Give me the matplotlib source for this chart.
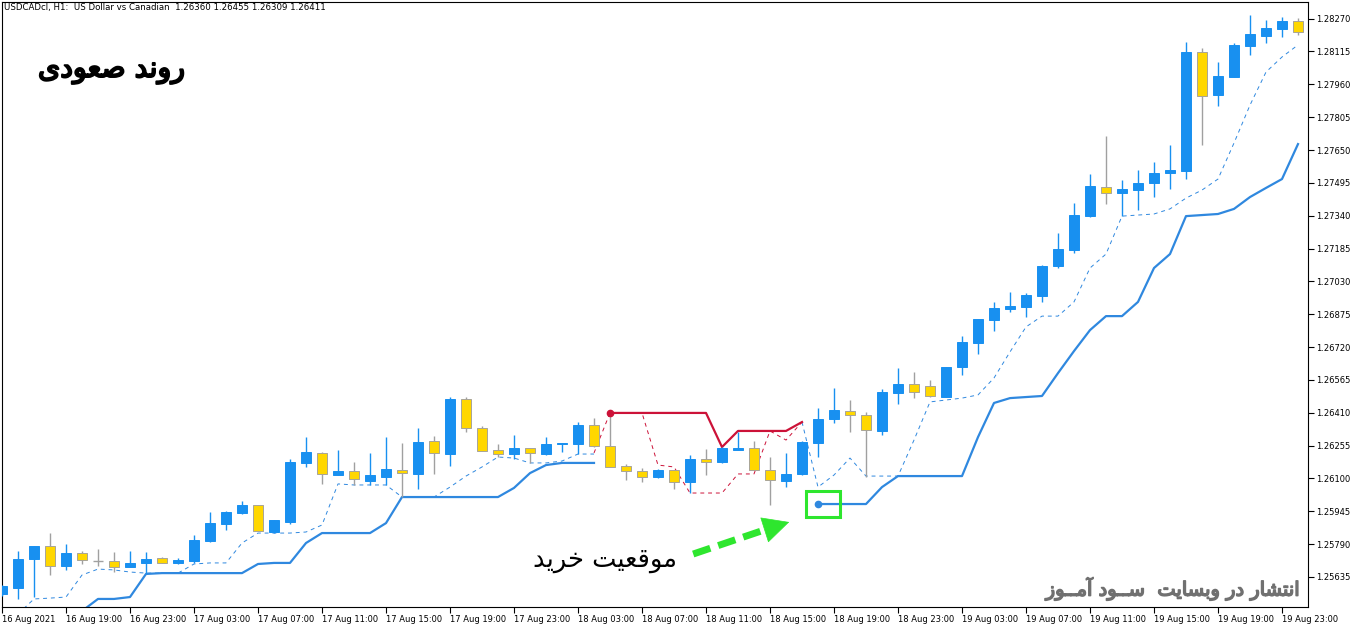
import numpy as np
import matplotlib
matplotlib.use("Agg")
import matplotlib.pyplot as plt
import matplotlib.patheffects as pe
from matplotlib.patches import Rectangle

# USDCAD H1 bars, 16 Aug 15:00 .. 20 Aug 00:00
opens = [1.25554, 1.25583, 1.25720, 1.25781, 1.25686, 1.25748, 1.25710, 1.25710, 1.25682, 1.25701,
         1.25724, 1.25701, 1.25710, 1.25805, 1.25885, 1.25937, 1.25974, 1.25847, 1.25894, 1.26173,
         1.26220, 1.26116, 1.26135, 1.26088, 1.26107, 1.26140, 1.26121, 1.26276, 1.26215, 1.26475,
         1.26338, 1.26234, 1.26215, 1.26243, 1.26215, 1.26262, 1.26262, 1.26352, 1.26253, 1.26158,
         1.26135, 1.26107, 1.26140, 1.26083, 1.26192, 1.26177, 1.26234, 1.26243, 1.26140, 1.26088,
         1.26121, 1.26267, 1.26380, 1.26418, 1.26399, 1.26324, 1.26503, 1.26546, 1.26536, 1.26484,
         1.26626, 1.26739, 1.26848, 1.26900, 1.26909, 1.26961, 1.27102, 1.27178, 1.27338, 1.27475,
         1.27447, 1.27461, 1.27494, 1.27541, 1.27551, 1.28113, 1.27910, 1.27995, 1.28141, 1.28188,
         1.28221, 1.28259]
highs = [1.25597, 1.25757, 1.25781, 1.25842, 1.25790, 1.25757, 1.25767, 1.25753, 1.25757, 1.25753,
         1.25729, 1.25724, 1.25833, 1.25941, 1.25946, 1.25993, 1.25974, 1.25904, 1.26192, 1.26295,
         1.26225, 1.26234, 1.26177, 1.26220, 1.26295, 1.26267, 1.26338, 1.26300, 1.26484, 1.26484,
         1.26347, 1.26262, 1.26305, 1.26243, 1.26295, 1.26267, 1.26366, 1.26385, 1.26409, 1.26168,
         1.26149, 1.26144, 1.26140, 1.26210, 1.26239, 1.26248, 1.26319, 1.26276, 1.26201, 1.26220,
         1.26276, 1.26432, 1.26527, 1.26470, 1.26413, 1.26522, 1.26621, 1.26602, 1.26564, 1.26626,
         1.26772, 1.26852, 1.26933, 1.26980, 1.26975, 1.27107, 1.27258, 1.27400, 1.27537, 1.27716,
         1.27508, 1.27556, 1.27593, 1.27674, 1.28160, 1.28131, 1.28065, 1.28155, 1.28287, 1.28264,
         1.28278, 1.28273]
lows = [1.25545, 1.25531, 1.25540, 1.25644, 1.25668, 1.25696, 1.25686, 1.25658, 1.25682, 1.25653,
        1.25701, 1.25696, 1.25701, 1.25800, 1.25856, 1.25932, 1.25852, 1.25842, 1.25885, 1.26154,
        1.26074, 1.26116, 1.26069, 1.26069, 1.26069, 1.26012, 1.26050, 1.26121, 1.26158, 1.26319,
        1.26229, 1.26201, 1.26192, 1.26173, 1.26210, 1.26225, 1.26215, 1.26248, 1.26154, 1.26092,
        1.26083, 1.26102, 1.26050, 1.26031, 1.26116, 1.26173, 1.26234, 1.26140, 1.25974, 1.26059,
        1.26116, 1.26201, 1.26361, 1.26319, 1.26107, 1.26305, 1.26451, 1.26479, 1.26484, 1.26484,
        1.26588, 1.26687, 1.26796, 1.26885, 1.26862, 1.26933, 1.27093, 1.27164, 1.27334, 1.27395,
        1.27338, 1.27367, 1.27428, 1.27466, 1.27513, 1.27674, 1.27858, 1.27995, 1.28098, 1.28155,
        1.28183, 1.28193]
closes = [1.25592, 1.25720, 1.25781, 1.25686, 1.25748, 1.25715, 1.25710, 1.25682, 1.25701, 1.25720,
          1.25701, 1.25715, 1.25809, 1.25889, 1.25941, 1.25974, 1.25852, 1.25904, 1.26177, 1.26225,
          1.26121, 1.26135, 1.26097, 1.26116, 1.26144, 1.26125, 1.26272, 1.26220, 1.26475, 1.26338,
          1.26229, 1.26215, 1.26243, 1.26220, 1.26262, 1.26267, 1.26352, 1.26253, 1.26154, 1.26135,
          1.26107, 1.26140, 1.26083, 1.26192, 1.26177, 1.26243, 1.26243, 1.26140, 1.26092, 1.26121,
          1.26272, 1.26380, 1.26423, 1.26399, 1.26328, 1.26508, 1.26546, 1.26508, 1.26489, 1.26626,
          1.26744, 1.26852, 1.26904, 1.26914, 1.26966, 1.27102, 1.27183, 1.27343, 1.27480, 1.27447,
          1.27466, 1.27494, 1.27541, 1.27556, 1.28113, 1.27905, 1.27999, 1.28146, 1.28198, 1.28226,
          1.28259, 1.28207]

# trailing stop lines (None = not drawn)
stop_slow = ([None] * 5 +
             [1.25474, 1.25531, 1.25531, 1.25540, 1.25649, 1.25653, 1.25653, 1.25653, 1.25653, 1.25653,
              1.25653, 1.25696, 1.25701, 1.25701, 1.25795, 1.25842, 1.25842, 1.25842, 1.25842, 1.25889,
              1.26012, 1.26012, 1.26012, 1.26012, 1.26012, 1.26012, 1.26012, 1.26055, 1.26125, 1.26163,
              1.26173, 1.26173, 1.26173] +
             [None] * 13 +
             [1.25979, 1.25979, 1.25979, 1.25979, 1.26059, 1.26111, 1.26111, 1.26111, 1.26111, 1.26111,
              1.26295, 1.26456, 1.26479, 1.26484, 1.26489, 1.26597, 1.26701, 1.26800, 1.26866, 1.26866,
              1.26933, 1.27093, 1.27159, 1.27338, 1.27343, 1.27348, 1.27372, 1.27428, 1.27471, 1.27513,
              1.27678])
stop_fast = ([None] +
             [1.25460, 1.25531, 1.25535, 1.25540, 1.25644, 1.25672, 1.25668, 1.25658, 1.25653, 1.25653,
              1.25653, 1.25696, 1.25701, 1.25701, 1.25795, 1.25842, 1.25842, 1.25842, 1.25847, 1.25880,
              1.26074, 1.26069, 1.26069, 1.26069, 1.26012, 1.26012, 1.26012, 1.26059, 1.26111, 1.26154,
              1.26201, 1.26196, 1.26173, 1.26173, 1.26182, 1.26215, 1.26215] +
             [None] * 12 +
             [1.26366, 1.26059, 1.26116, 1.26196, 1.26111, 1.26111, 1.26111, 1.26281, 1.26461, 1.26470,
              1.26479, 1.26494, 1.26574, 1.26697, 1.26815, 1.26866, 1.26866, 1.26933, 1.27093, 1.27159,
              1.27338, 1.27343, 1.27348, 1.27372, 1.27423, 1.27461, 1.27513, 1.27683, 1.27862, 1.28018,
              1.28089, 1.28146])
stop_sell = ([None] * 38 +
             [1.26409, 1.26409, 1.26409, 1.26409, 1.26409, 1.26409, 1.26409, 1.26248, 1.26324, 1.26324,
              1.26324, 1.26324, 1.26366] +
             [None] * 31)
stop_sell_fast = ([None] * 37 +
                  [1.26220, 1.26409, 1.26409, 1.26409, 1.26163, 1.26154, 1.26031, 1.26031, 1.26031, 1.26121,
                   1.26121, 1.26324, 1.26281, 1.26366] +
                  [None] * 31)

y_ticks = [1.25635, 1.25790, 1.25945, 1.26100, 1.26255, 1.26410, 1.26565, 1.26720, 1.26875,
           1.27030, 1.27185, 1.27340, 1.27495, 1.27650, 1.27805, 1.27960, 1.28115, 1.28270]
x_labels = ["16 Aug 2021", "16 Aug 19:00", "16 Aug 23:00", "17 Aug 03:00", "17 Aug 07:00",
            "17 Aug 11:00", "17 Aug 15:00", "17 Aug 19:00", "17 Aug 23:00", "18 Aug 03:00",
            "18 Aug 07:00", "18 Aug 11:00", "18 Aug 15:00", "18 Aug 19:00", "18 Aug 23:00",
            "19 Aug 03:00", "19 Aug 07:00", "19 Aug 11:00", "19 Aug 15:00", "19 Aug 19:00",
            "19 Aug 23:00"]

entry_bar = 51
title = "USDCADcl, H1:  US Dollar vs Canadian  1.26360 1.26455 1.26309 1.26411"

BULL = "#1890f0"
BEAR = "#ffd700"
BEAR_EDGE = "#a8a498"
LINE_BLUE = "#2f88df"
RED = "#cc1238"
GREEN = "#2ee62e"

# persian text -> presentation forms, visual order (matplotlib has no shaping)
FORMS = {
    'ا': ('\ufe8d', '\ufe8e', None, None),
    'آ': ('\ufe81', '\ufe82', None, None),
    'ب': ('\ufe8f', '\ufe90', '\ufe91', '\ufe92'),
    'ت': ('\ufe95', '\ufe96', '\ufe97', '\ufe98'),
    'خ': ('\ufea5', '\ufea6', '\ufea7', '\ufea8'),
    'د': ('\ufea9', '\ufeaa', None, None),
    'ر': ('\ufead', '\ufeae', None, None),
    'ز': ('\ufeaf', '\ufeb0', None, None),
    'س': ('\ufeb1', '\ufeb2', '\ufeb3', '\ufeb4'),
    'ش': ('\ufeb5', '\ufeb6', '\ufeb7', '\ufeb8'),
    'ص': ('\ufeb9', '\ufeba', '\ufebb', '\ufebc'),
    'ع': ('\ufec9', '\ufeca', '\ufecb', '\ufecc'),
    'ق': ('\ufed5', '\ufed6', '\ufed7', '\ufed8'),
    'م': ('\ufee1', '\ufee2', '\ufee3', '\ufee4'),
    'ن': ('\ufee5', '\ufee6', '\ufee7', '\ufee8'),
    'و': ('\ufeed', '\ufeee', None, None),
    'ی': ('\ufbfc', '\ufbfd', '\ufbfe', '\ufbff'),
    'ـ': ('\u0640', '\u0640', '\u0640', '\u0640'),
}


def fa(text):
    out = []
    for i, ch in enumerate(text):
        if ch not in FORMS:
            out.append(ch)
            continue
        iso, fin, ini, med = FORMS[ch]
        prev = text[i - 1] if i > 0 else ''
        nxt = text[i + 1] if i + 1 < len(text) else ''
        join_prev = prev in FORMS and FORMS[prev][2] is not None
        join_next = ini is not None and nxt in FORMS
        if join_prev and join_next:
            out.append(med)
        elif join_prev:
            out.append(fin)
        elif join_next:
            out.append(ini)
        else:
            out.append(iso)
    return ''.join(reversed(out))


W, H = 1362, 628
fig = plt.figure(figsize=(W / 100, H / 100), dpi=100, facecolor="white")
ax = fig.add_axes([2 / W, 21 / H, 1306 / W, (H - 22.5) / H])

o = np.array(opens)
h = np.array(highs)
l = np.array(lows)
c = np.array(closes)
x = np.arange(len(o))
up = c > o
down = c < o
flat = c == o

# indicator lines
ax.plot(x, np.array(stop_slow, dtype=float), color=LINE_BLUE, lw=1.6, zorder=2)
ax.plot(x, np.array(stop_fast, dtype=float), color=LINE_BLUE, lw=0.7, ls=(0, (4, 4)), zorder=2)
ax.plot(x, np.array(stop_sell, dtype=float), color=RED, lw=1.6, zorder=2)
ax.plot(x, np.array(stop_sell_fast, dtype=float), color=RED, lw=0.7, ls=(0, (4, 4)), zorder=2)
first_red = next(i for i, v in enumerate(stop_sell) if v is not None)
ax.plot(first_red, stop_sell[first_red], "o", color=RED, ms=4.5, zorder=4)
ax.plot(entry_bar, stop_slow[entry_bar], "o", color=LINE_BLUE, ms=4.5, zorder=4)

# candles
ax.vlines(x[up], l[up], h[up], color=BULL, lw=1, zorder=3)
ax.vlines(x[~up], l[~up], h[~up], color="#a0a0a0", lw=1, zorder=3)
bw = 0.66
ax.bar(x[up], (c - o)[up], bottom=o[up], width=bw, color=BULL, edgecolor=BULL, lw=0.7, zorder=3)
ax.bar(x[down], (o - c)[down], bottom=c[down], width=bw, color=BEAR, edgecolor=BEAR_EDGE, lw=0.7, zorder=3)
ax.hlines(o[flat], x[flat] - bw / 2, x[flat] + bw / 2, color="#a0a0a0", lw=1, zorder=3)

# entry marker box
bx = entry_bar - 0.75
ax.add_patch(Rectangle((bx, 1.25918), 2.1, 0.00123, fill=False, ec=GREEN, lw=2.2, zorder=5))

# dashed arrow pointing at the entry
arr_start = (43.2, 1.25743)
arr_base = (47.7, 1.25858)
arr_tip = (49.2, 1.25894)
ax.plot([arr_start[0], arr_base[0]], [arr_start[1], arr_base[1]], color=GREEN, lw=5,
        ls=(0, (2.6, 1.2)), solid_capstyle="butt", zorder=5)
ax.annotate("", xy=arr_tip, xytext=arr_base,
            arrowprops=dict(arrowstyle="-|>,head_length=0.9,head_width=0.45", mutation_scale=20,
                            color=GREEN, lw=0.5, shrinkA=0, shrinkB=0), zorder=5)

ax.set_xlim(0, (1306) / 16)
ax.set_ylim(1.25493, 1.28351)

ax.set_xticks(np.arange(0, len(o), 4))
ax.set_xticklabels(x_labels, fontsize=6, ha="left")
ax.yaxis.tick_right()
ax.set_yticks(y_ticks)
ax.set_yticklabels(["%.5f" % v for v in y_ticks], fontsize=6)
ax.tick_params(axis="both", direction="out", length=4, width=0.8, color="black", pad=2)
for s in ax.spines.values():
    s.set_linewidth(0.8)
    s.set_color("black")

# regular face + thin stroke looks closer to the upright bold in the picture
bold_black = [pe.withStroke(linewidth=1.4, foreground="black")]
bold_gray = [pe.withStroke(linewidth=1.1, foreground="#707070")]

fig.text(4 / W, 1 - 3 / H, title, fontsize=6.2, ha="left", va="top")
fig.text(38 / W, 1 - 70 / H, fa("روند صعودی"), fontsize=20.5,
         ha="left", va="center", family="DejaVu Sans", path_effects=bold_black)
fig.text(605 / W, 1 - 560 / H, fa("موقعیت خرید"), fontsize=18.5,
         ha="center", va="center", family="DejaVu Sans")
fig.text(1302 / W, 1 - 589 / H, fa("انتشار در وبسایت  ســود آمــوز"), fontsize=14,
         color="#707070", ha="right", va="center", family="DejaVu Sans", path_effects=bold_gray)

fig.savefig("out.png", dpi=100, facecolor="white")
